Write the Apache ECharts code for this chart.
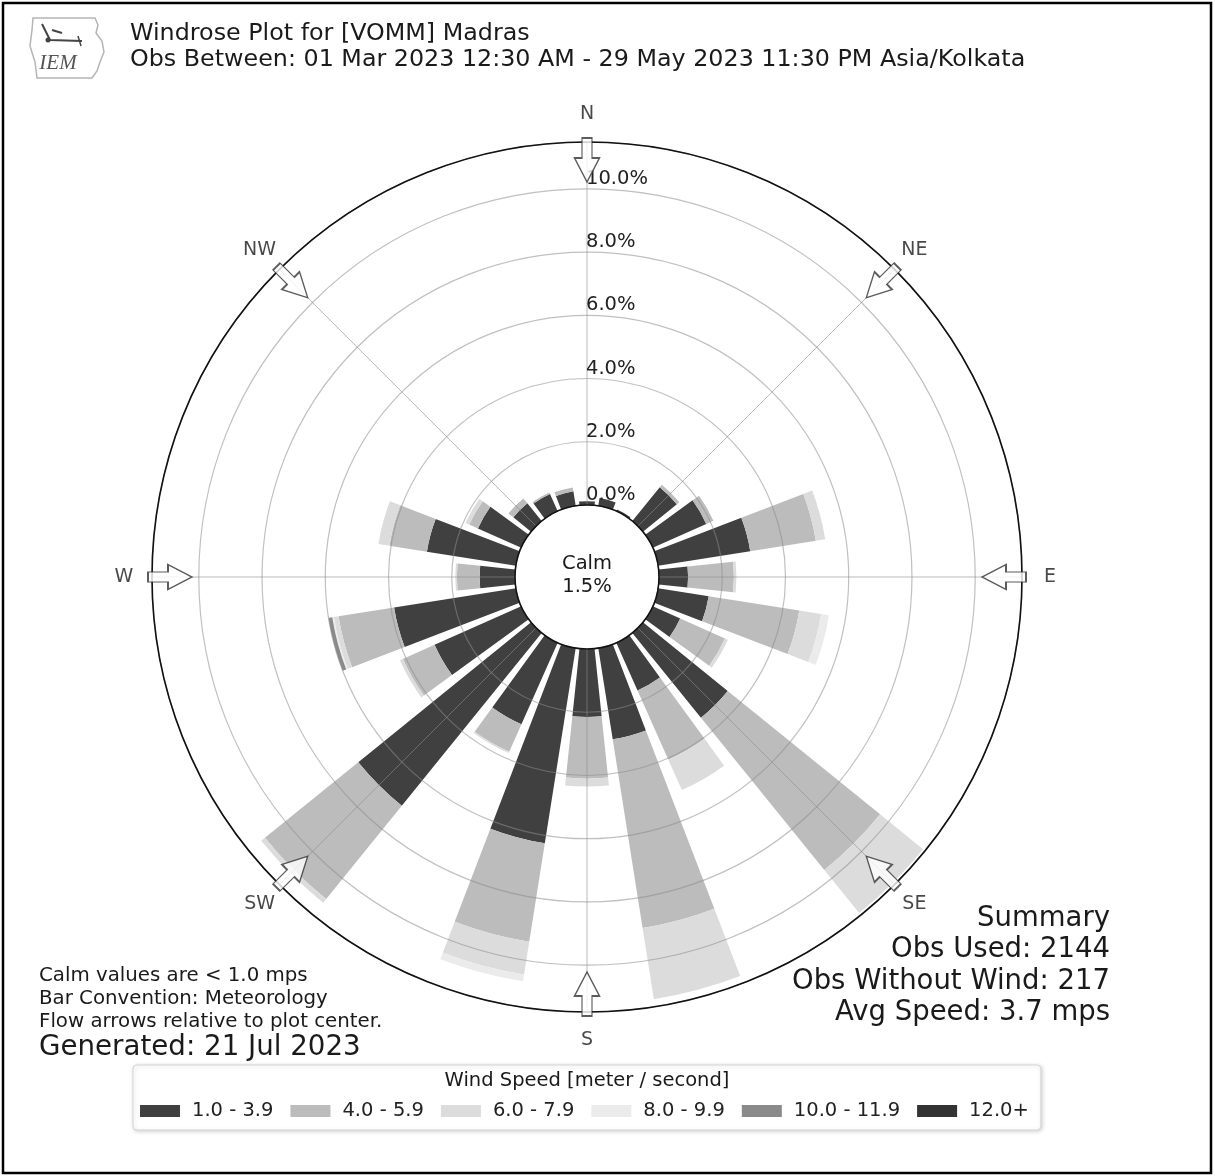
<!DOCTYPE html>
<html>
<head>
<meta charset="utf-8">
<script src="https://cdn.jsdelivr.net/npm/echarts@6/dist/echarts.min.js"></script>
<style>
html,body{margin:0;padding:0;background:#fff;}
#chart{width:1215px;height:1176px;}
</style>
</head>
<body>
<div id="chart"></div>
<script>
// ---- data (percent of observations, 15-degree sectors, meteorological "from" direction) ----
const directions = [0,15,30,45,60,75,90,105,120,135,150,165,180,195,210,225,240,255,270,285,300,315,330,345];
const speedBins = ['1.0 - 3.9','4.0 - 5.9','6.0 - 7.9','8.0 - 9.9','10.0 - 11.9','12.0+'];
const bin1 = [0.12,0.25,0.06,1.38,1.85,2.95,0.92,1.62,0.95,3.45,1.65,2.92,2.15,6.25,2.82,7.03,3.00,3.90,1.12,2.85,1.50,0.72,0.60,0.47];
const bin2 = [0,0,0,0.10,0.25,2.10,1.45,2.90,1.55,6.20,2.40,6.04,1.95,3.15,0.95,3.80,1.10,1.78,0.72,1.20,0.30,0.20,0.05,0.12];
const bin3 = [0,0,0,0,0,0.30,0.08,0.70,0.10,1.75,1.05,2.28,0.25,1.05,0.05,0.15,0.10,0.15,0.05,0.35,0.13,0,0,0];
const bin4 = [0,0,0,0,0,0,0,0.25,0,0,0,0,0,0.22,0,0,0,0.05,0,0,0,0,0,0];
const bin5 = [0,0,0,0,0,0,0,0,0,0,0,0,0,0,0,0,0,0.12,0,0,0,0,0,0];
const bin6 = [0,0,0,0,0,0,0,0,0,0,0,0,0,0,0,0,0,0,0,0,0,0,0,0];
const radiusTicks = [0,2,4,6,8,10];
const compassLabels = ['N','NE','E','SE','S','SW','W','NW'];
const compassAngles = [0,45,90,135,180,225,270,315];
const calmPercent = 1.5;
const titleLines = ['Windrose Plot for [VOMM] Madras','Obs Between: 01 Mar 2023 12:30 AM - 29 May 2023 11:30 PM Asia/Kolkata'];
const noteLines = ['Calm values are < 1.0 mps','Bar Convention: Meteorology','Flow arrows relative to plot center.'];
const generatedText = 'Generated: 21 Jul 2023';
const summaryLines = ['Summary','Obs Used: 2144','Obs Without Wind: 217','Avg Speed: 3.7 mps'];
const legendTitle = 'Wind Speed [meter / second]';

// ---- styling / layout constants ----
const binData = [bin1,bin2,bin3,bin4,bin5,bin6];
const binColors = ['#404040','#bcbcbc','#dcdcdc','#ebebeb','#8a8a8a','#333333'];
const FONT = 'DejaVu Sans';
const CX = 587, CY = 577, R0 = 72, R1 = 435;
const RMAX = 11.48;
const pxToVal = px => (px - R0) / (R1 - R0) * RMAX;
const ARROW_R = pxToVal(417);
const LABEL_R = pxToVal(463);

const chart = echarts.init(document.getElementById('chart'), null, {renderer:'canvas'});

const barSeries = speedBins.map((name, i) => ({
  type: 'bar', name: name, coordinateSystem: 'polar', polarIndex: 0, stack: 'total',
  data: binData[i], barCategoryGap: '20%', z: 2,
  itemStyle: {color: binColors[i]}, silent: true
}));

function txt(text, x, y, size, align, extra) {
  return Object.assign({
    type: 'text', z: 50,
    style: {text: text, x: x, y: y, fontSize: size, fontFamily: FONT, fill: '#1a1a1a',
            textAlign: align || 'left', textVerticalAlign: 'middle'}
  }, extra || {});
}

const graphics = [
  {type:'rect', z: 60, shape:{x:3,y:3,width:1208,height:1170}, style:{fill:'none', stroke:'#000', lineWidth:2.5}},
  // IEM logo
  {type:'polygon', z:50, shape:{points:[[33,18],[95,18],[98,25],[96,33],[102,41],[104,52],[100,62],[97,71],[92,78],[37,78],[35,62],[30,46],[32,30]]},
   style:{fill:'none', stroke:'#b5b5b5', lineWidth:1.5}},
  {type:'polyline', z:51, shape:{points:[[42,24],[46,32],[50,40],[82,41]]}, style:{stroke:'#444', lineWidth:2, fill:'none'}},
  {type:'polyline', z:51, shape:{points:[[52,30],[62,33]]}, style:{stroke:'#444', lineWidth:2}},
  {type:'polyline', z:51, shape:{points:[[78,36],[81,46]]}, style:{stroke:'#444', lineWidth:1.5}},
  {type:'circle', z:51, shape:{cx:48,cy:40,r:2.5}, style:{fill:'#444'}},
  {type:'text', z:51, style:{text:'IEM', x:58, y:63, fontSize:21, fontFamily:'Liberation Serif', fontStyle:'italic', fill:'#555', textAlign:'center', textVerticalAlign:'middle'}},
  txt(titleLines[0], 130, 34, 23.8),
  txt(titleLines[1], 130, 60, 23.8),
  txt('Calm', CX, 564, 19.5, 'center'),
  txt(calmPercent.toFixed(1) + '%', CX, 587, 19.5, 'center'),
  txt(noteLines[0], 39, 976, 19.8),
  txt(noteLines[1], 39, 999, 19.8),
  txt(noteLines[2], 39, 1022, 19.8),
  txt(generatedText, 39, 1048, 27.7),
  txt(summaryLines[0], 1110, 919, 27.5, 'right'),
  txt(summaryLines[1], 1110, 950, 27.5, 'right'),
  txt(summaryLines[2], 1110, 982, 27.5, 'right'),
  txt(summaryLines[3], 1110, 1013, 27.5, 'right'),
  txt(legendTitle, 587, 1081, 19.5, 'center', {z: 120})
];

const option = {
  animation: false,
  backgroundColor: '#ffffff',
  textStyle: {fontFamily: FONT},
  polar: [
    {center:[CX, CY], radius:[R0, R1]},
    {center:[CX, CY], radius:[R0, R1]}
  ],
  angleAxis: [
    {polarIndex:0, type:'category', data: directions.map(String), startAngle: 97.5, clockwise: true, show: false},
    {polarIndex:1, type:'value', min:0, max:360, interval:45, startAngle:90, clockwise:true, z:5,
     axisLine:{show:true, lineStyle:{color:'#111', width:1.6}},
     axisTick:{show:false}, axisLabel:{show:false},
     splitLine:{show:true, lineStyle:{color:'rgba(140,140,140,0.6)', width:1}}}
  ],
  radiusAxis: [
    {polarIndex:0, type:'value', min:0, max:RMAX, show:false},
    {polarIndex:1, type:'value', min:0, max:RMAX, interval:2, z:5,
     axisLine:{show:false}, axisTick:{show:false},
     axisLabel:{show:true, inside:true, align:'left', verticalAlign:'bottom', margin:1, showMaxLabel:false,
       fontSize:19.5, color:'#222', fontFamily: FONT,
       formatter: v => (radiusTicks.indexOf(v) >= 0 ? v.toFixed(1) + '%' : '')},
     splitLine:{show:true, lineStyle:{color:'rgba(140,140,140,0.55)', width:1.2}}}
  ],
  legend: {
    data: speedBins, left: 133, top: 1065, orient: 'horizontal',
    itemWidth: 40, itemHeight: 12, itemGap: 17, icon: 'rect',
    padding: [36, 12, 9, 7],
    borderColor: '#d6d6d6', borderWidth: 1, borderRadius: 4, backgroundColor: '#fff',
    shadowBlur: 4, shadowColor: 'rgba(0,0,0,0.18)', shadowOffsetX: 1, shadowOffsetY: 1,
    textStyle: {fontSize: 19.5, color: '#222', fontFamily: FONT, padding: [0,0,0,7]},
    selectedMode: false, z: 100
  },
  graphic: graphics,
  series: barSeries.concat([
    {
      type:'scatter', name:'arrows', coordinateSystem:'polar', polarIndex:1, clip:false, silent:true, z:10,
      data: compassAngles.map(a => [ARROW_R, a]),
      symbol: 'path://M7.5 0L17.5 0L17.5 20L25 20L12.5 44L0 20L7.5 20Z',
      symbolSize: [25, 44],
      symbolRotate: (v) => -v[1],
      itemStyle: {color:'#fff', borderColor:'#333', borderWidth:1.5}
    },
    {
      type:'scatter', name:'compass', coordinateSystem:'polar', polarIndex:1, clip:false, silent:true, z:10,
      data: compassAngles.map((a, i) => ({value:[LABEL_R, a], name: compassLabels[i]})),
      symbolSize: 0,
      label: {show:true, position:'inside', formatter:'{b}', fontSize:19, color:'#1a1a1a', fontFamily: FONT}
    }
  ])
};
chart.setOption(option);
</script>
</body>
</html>
